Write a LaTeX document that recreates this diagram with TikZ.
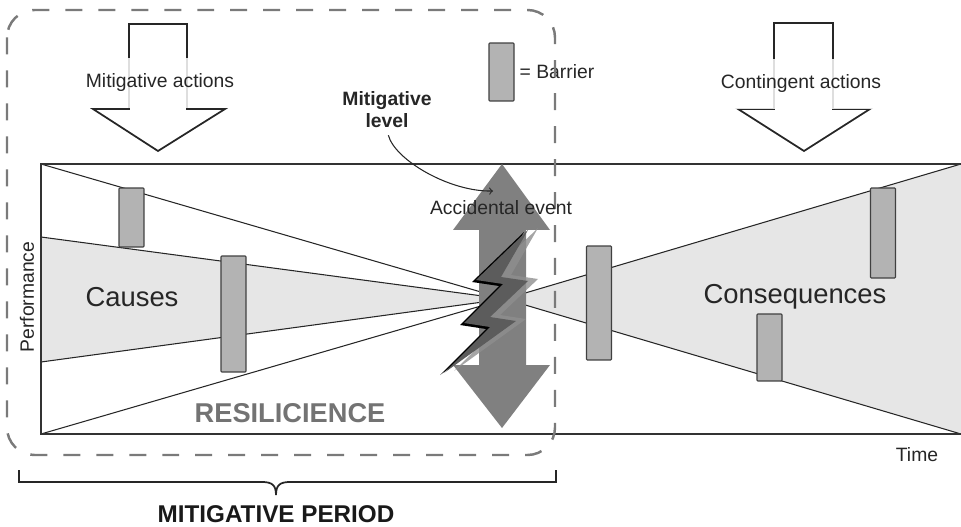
\documentclass[tikz,border=0pt]{standalone}
\usepackage{fontspec}
\setmainfont{Liberation Sans}
\usetikzlibrary{positioning}
\definecolor{barfill}{HTML}{B3B3B3}
\definecolor{lightfill}{HTML}{E6E6E6}
\definecolor{evgray}{HTML}{808080}
\definecolor{boltdark}{HTML}{5C5C5C}
\definecolor{boltlight}{HTML}{8E8E8E}
\definecolor{dashgray}{HTML}{7A7A7A}

\begin{document}
\begin{tikzpicture}[x=0.02cm, y=-0.02cm,
						barrier/.style={rectangle, draw=black!75, fill=barfill, line width=0.6pt, rounded corners=0.5pt, minimum width=0.5cm, inner sep=0pt},
						label/.style={font=\fontsize{11}{13}\selectfont, text=black!85, inner sep=1pt},
						biglabel/.style={font=\fontsize{15.6}{18}\selectfont, text=black!85},
						actarrow/.style={draw=black!85, line width=1pt, line join=miter},
						actlabel/.style={label, fill=white, fill opacity=0.85, text opacity=1, minimum height=1.02cm, inner xsep=1pt},
						trend/.style={draw=black!85, line width=0.6pt}
					]
					\useasboundingbox (0,0) rectangle (961,527);
					\coordinate (tl) at (41,164);
					\coordinate (bl) at (41,434);
					\coordinate (tr) at (961,164);
					\coordinate (br) at (961,434);
					\coordinate (l2) at (41,237);
					\coordinate (l3) at (41,362);
					\coordinate (c) at (505,299);
					\fill[lightfill] (l2) -- (c) -- (l3) -- cycle;
					\fill[lightfill] (c) -- (tr) -- (br) -- cycle;
					\draw[trend] (tl) -- (c) -- (br);
					\draw[trend] (l2) -- (c) -- (tr);
					\draw[trend] (l3) -- (c);
					\draw[trend] (bl) -- (c);
					\draw[line width=0.8pt, black!80] (tr) -- (tl) -- (bl) -- (br);
					\node[barrier, minimum height=1.18cm] (b1) at (131.5,217.5) {};
					\node[barrier, minimum height=2.32cm] (b2) at (233.5,314) {};
					\node[barrier, minimum height=2.28cm] (b3) at (599,303) {};
					\node[barrier, minimum height=1.34cm] (b5) at (769.5,347.5) {};
					\node[barrier, minimum height=1.8cm] (b4) at (883,233) {};
					\node[barrier, minimum height=1.16cm] (bkey) at (501.5,72) {};
					\node[label] (bkeytext) [right=0.06cm of bkey] {= Barrier};
					% accidental event: double arrow and lightning
					\fill[evgray] (502,164) -- (550,230) -- (526,230) -- (526,365) -- (550,365) -- (502,428) -- (453,365) -- (479,365) -- (479,230) -- (453,230) -- cycle;
					\foreach \dx/\dy/\col/\op in {10/-2/boltlight/0.8, -4/2/black/1, 0/0/boltdark/1}
						\fill[\col, opacity=\op, shift={(528+\dx,230+\dy)}] (0,0) -- (-52,50) -- (-25,54) -- (-64,93) -- (-38,97) -- (-84,143) -- (-12,91) -- (-38,87) -- (0,51) -- (-27,47) -- cycle;
					\draw[actarrow] (129,109) -- (93,109) -- (158,151) -- (225,109) -- (187,109) -- (187,24) -- (129,24) -- cycle;
					\node[actlabel] (mitact) at (160,83) {Mitigative actions};
					\draw[actarrow] (774,109) -- (738,109) -- (804,151) -- (870,109) -- (833,109) -- (833,23) -- (774,23) -- cycle;
					\node[actlabel] (contact) at (801,84) {Contingent actions};
					\draw[dashgray, line width=1.4pt, dash pattern=on 0.34cm off 0.32cm, rounded corners=0.55cm] (7,10) rectangle (555,455);
					\node[biglabel] (causes) at (132,297) {Causes};
					\node[biglabel] (conseq) at (795,297) {Consequences};
					\node[label, rotate=90] (perf) at (27,297) {Performance};
					\node[label] (time) at (917,455) {Time};
					\node[font=\bfseries\fontsize{15.5}{18}\selectfont, text=black!55] (resil) at (290,413) {RESILICIENCE};
					\node[label, font=\bfseries\fontsize{11}{12.5}\selectfont, align=center] (mlevel) at (387,110) {Mitigative\\level};
					\node[label] (accevent) at (501,208) {Accidental event};
					\coordinate (mltip) at (493,191);
					\draw[->, black!85, line width=0.6pt, shorten <=3pt] (mlevel.south) .. controls +(8,30) and +(-43,1) .. (mltip);
					\coordinate (pl) at (19,470);
					\coordinate (pr) at (556,470);
					\draw[line width=1pt, black!85] (pl) -- (19,482) -- (262,482) .. controls (272,482) and (276,485) .. (276,495) .. controls (276,485) and (280,482) .. (290,482) -- (556,482) -- (pr);
					\node[font=\bfseries\fontsize{13.8}{16}\selectfont, text=black!90] (mperiod) at (276,514) {MITIGATIVE PERIOD};
					\end{tikzpicture}
\end{document}
